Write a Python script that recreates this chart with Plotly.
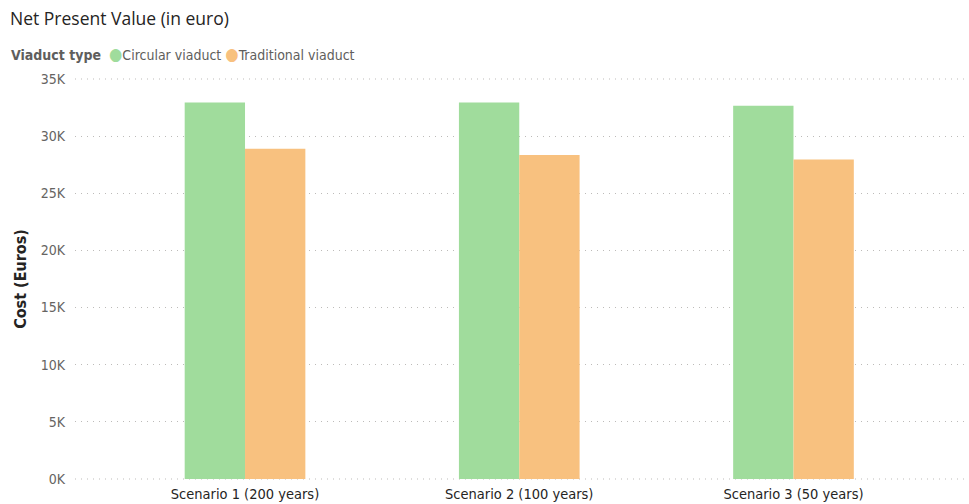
import plotly.graph_objects as go

categories = ["Scenario 1 (200 years)", "Scenario 2 (100 years)", "Scenario 3 (50 years)"]
circular = [32950, 32950, 32650]
traditional = [28900, 28350, 27950]
series_names = ["Circular viaduct", "Traditional viaduct"]
colors = ["#A0DC9C", "#F8C17F"]
tick_vals = [0, 5000, 10000, 15000, 20000, 25000, 30000, 35000]
tick_text = ["0K", "5K", "10K", "15K", "20K", "25K", "30K", "35K"]
legend_title = "Viaduct type"

fig = go.Figure()
for name, vals, col in zip(series_names, [circular, traditional], colors):
    fig.add_trace(go.Bar(x=categories, y=vals, name=name, marker=dict(color=col, line_width=0),
                         showlegend=False))

# legend drawn as a single text line (like the reference's compact legend)
legend_html = "<b>%s</b>  " % legend_title + "".join(
    "<span style='color:%s;font-size:17px'>●</span>%s " % (c, n) for n, c in zip(series_names, colors))

L, R, T, B, W, H = 75, 0, 78, 24, 969, 504
pw, ph = W - L - R, H - T - B
grid_color = "#BDBBB9"
grid_dash = "1px,5px"

# make sure the edge gridlines (0K and 35K) are drawn, behind the bars
edge_lines = [dict(type="line", xref="paper", yref="y", x0=0, x1=1, y0=v, y1=v, layer="below",
                   line=dict(color=grid_color, width=1, dash=grid_dash))
              for v in (tick_vals[0], tick_vals[-1])]

fig.update_layout(
    width=W, height=H,
    margin=dict(l=L, r=R, t=T, b=B),
    paper_bgcolor="white", plot_bgcolor="white",
    barmode="group", bargap=0.56, bargroupgap=0,
    font=dict(family="DejaVu Sans Condensed", color="#605E5C"),
    title=dict(text="Net Present Value (in euro)", x=10 / W, xanchor="left", y=1 - 19 / H, yanchor="middle",
               font=dict(family="Open Sans", size=17.5, color="#252423")),
    annotations=[dict(text=legend_html, xref="paper", yref="paper", x=(9 - L) / pw, y=(H - B - 1 - 53) / ph,
                      xanchor="left", yanchor="middle", showarrow=False,
                      font=dict(family="DejaVu Sans Condensed", size=14, color="#605E5C"))],
    shapes=edge_lines,
    xaxis=dict(range=[-0.62, 2.64], showgrid=False, zeroline=False, showline=False,
               tickfont=dict(size=14.5, color="#252423"), ticks="", ticklabelstandoff=3),
    yaxis=dict(range=[-87.5, 35087.5], tickvals=tick_vals, ticktext=tick_text, showgrid=True,
               gridcolor=grid_color, griddash=grid_dash, gridwidth=1, zeroline=False,
               tickfont=dict(size=14, color="#666462"), ticks="", ticklabelstandoff=9,
               title=dict(text="<b>Cost (Euros)</b>", font=dict(size=16, color="#252423"), standoff=10)),
)

fig.write_html("out.html")
